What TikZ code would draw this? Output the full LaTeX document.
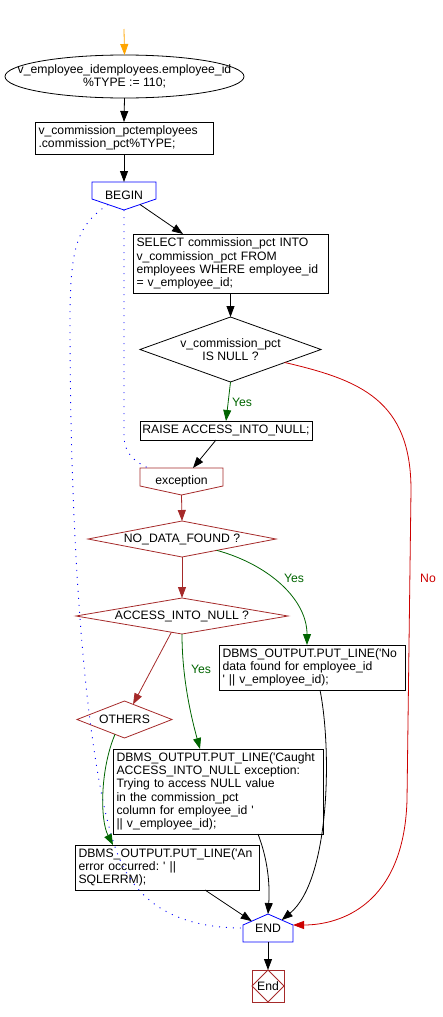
\documentclass[tikz,border=0pt]{standalone}
\usepackage{fontspec}
\setmainfont{Liberation Sans}
\usetikzlibrary{arrows.meta,shapes.geometric,calc}
\definecolor{fcbrown}{HTML}{A52A2A}
\definecolor{fcred}{HTML}{CC0000}
\definecolor{fcgreen}{HTML}{006400}
\definecolor{fcblue}{HTML}{0000FF}
\definecolor{fcorange}{HTML}{FFA500}
\newcommand\sq{\textquotesingle}
\frenchspacing
\begin{document}
\begin{tikzpicture}[x=1pt,y=-1pt,line width=0.8pt,
  every node/.style={font=\fontsize{12.2pt}{13.3pt}\selectfont, inner sep=0pt, outer sep=0pt},
  box/.style={draw, rectangle, anchor=north west, align=left, inner xsep=3.5pt},
  dia/.style={draw, diamond, inner sep=0pt, align=center},
  arr/.style={-{Triangle[length=11pt,width=8pt]}},
  yeslbl/.style={text=fcgreen},
  dots/.style={fcblue, dash pattern=on 1pt off 6pt, line width=0.9pt}]
\useasboundingbox (0,0) rectangle (442,1017);

% nodes
\coordinate (start) at (124,29);
\node[minimum width=239pt, minimum height=43pt, align=center] (decl1) at (124.5,76.5)
  {v\_employee\_idemployees.employee\_id\\\%TYPE := 110;};
\draw (decl1.center) ellipse [x radius=119.5pt, y radius=21.5pt];

\node[box, minimum width=178pt, minimum height=32pt, text width=171pt] (decl2) at (35,122)
  {v\_commission\_pctemployees\\.commission\_pct\%TYPE;};

\node[minimum width=64pt, minimum height=28pt] (begin) at (124,196) {\raisebox{1.5pt}{BEGIN}};
\draw[fcblue] (begin.north west) -- (begin.north east) -- ([yshift=11pt]begin.south east)
  -- (begin.south) -- ([yshift=11pt]begin.south west) -- cycle;

\node[box, minimum width=195pt, minimum height=59pt, text width=188pt] (select) at (133,234)
  {SELECT commission\_pct INTO\\v\_commission\_pct FROM\\employees WHERE employee\_id\\= v\_employee\_id;};

\node[dia, minimum width=181pt, minimum height=65pt, aspect=2.78] (d1) at (230.5,349.5)
  {v\_commission\_pct\\IS NULL ?};

\node[draw, rectangle, anchor=north west, minimum width=172pt, minimum height=19pt] (raise) at (140,421)
  {RAISE ACCESS\_INTO\_NULL;};

\node[minimum width=83pt, minimum height=27pt] (exc) at (181.5,481.5) {exception};
\draw[fcbrown] (exc.north west) -- (exc.north east) -- ([yshift=9pt]exc.south east)
  -- (exc.south) -- ([yshift=9pt]exc.south west) -- cycle;

\node[dia, draw=fcbrown, minimum width=188pt, minimum height=36pt, aspect=5.2] (ndf) at (182,539)
  {NO\_DATA\_FOUND ?};
\node[dia, draw=fcbrown, minimum width=212pt, minimum height=36pt, aspect=5.9] (ain) at (182,616)
  {ACCESS\_INTO\_NULL ?};
\node[dia, draw=fcbrown, minimum width=95pt, minimum height=37pt, aspect=2.57] (oth) at (124.5,719.5)
  {OTHERS};

\node[box, minimum width=186pt, minimum height=45pt, text width=179pt] (nd) at (219,645)
  {DBMS\_OUTPUT.PUT\_LINE(\sq No\\data found for employee\_id\\\sq{} || v\_employee\_id);};

\node[box, minimum width=210pt, minimum height=85pt, text width=203pt] (caught) at (113,749)
  {DBMS\_OUTPUT.PUT\_LINE(\sq Caught\\ACCESS\_INTO\_NULL exception:\\Trying to access NULL value\\in the commission\_pct\\column for employee\_id \sq\\|| v\_employee\_id);};

\node[box, minimum width=184pt, minimum height=45pt, text width=177pt] (err) at (75,845)
  {DBMS\_OUTPUT.PUT\_LINE(\sq An\\error occurred: \sq{} ||\\SQLERRM);};

\node[minimum width=50pt, minimum height=28pt] (endn) at (268,928) {\raisebox{-3pt}{END}};
\coordinate (endl) at ([yshift=-11pt]endn.north west);
\coordinate (endr) at ([yshift=-11pt]endn.north east);
\draw[fcblue] (endn.south west) -- (endl) -- (endn.north) -- (endr) -- (endn.south east) -- cycle;

\node[draw=fcbrown, minimum width=32pt, minimum height=32pt] (endbox) at (268,986) {};
\node[dia, draw=fcbrown, minimum width=32pt, minimum height=32pt, aspect=1] (endd) at (268,986) {End};

% labels
\node[yeslbl] (yes1) at (242,402) {Yes};
\node[yeslbl] (yes2) at (294,578) {Yes};
\node[yeslbl] (yes3) at (201,669) {Yes};
\node[text=fcred] (no1) at (428,578) {No};

% connectors
\draw[fcorange, arr] (start) -- (decl1.north);
\draw[arr] (decl1.south) -- (decl2.north);
\draw[arr] (decl2.south) -- (begin.north);
\draw[arr] ([xshift=16pt,yshift=5.5pt]begin.south) -- ([xshift=50pt]select.north west);
\draw[arr] (select.south) -- (d1.north);
\draw[fcgreen, arr] (d1.south) -- (raise.north);
\draw[arr] ([xshift=-10pt]raise.south) -- ([xshift=11.5pt]exc.north);
\draw[fcred, arr] ($(d1.south)!0.6!(d1.east)$) .. controls (360,380) and (411,400) .. (411,490)
  -- (407,800) .. controls (404,905) and (340,925) .. (endr);
\draw[dots] (begin.south) -- (124,435) .. controls (124,455) and (136,462) .. ([xshift=-33.5pt]exc.north);
\draw[dots] ([xshift=-16pt,yshift=5.5pt]begin.south) .. controls (78,225) and (70,245) .. (70,320)
  .. controls (70,600) and (92,790) .. (118,855) .. controls (140,912) and (190,928) .. (endn.west);
\draw[fcbrown, arr] (exc.south) -- (ndf.north);
\draw[fcbrown, arr] (ndf.south) -- (ain.north);
\draw[fcgreen, arr] ($(ndf.south)!0.37!(ndf.east)$) .. controls (270,565) and (307,600) .. ([xshift=-5pt]nd.north);
\draw[fcbrown, arr] ($(ain.south)!0.1!(ain.west)$) -- ($(oth.north)!0.18!(oth.east)$);
\draw[fcgreen, arr] (ain.south) .. controls (182,680) and (192,720) .. ([xshift=-18pt]caught.north);
\draw[fcgreen, arr] ($(oth.south)!0.2!(oth.west)$) .. controls (100,770) and (100,820) .. ([xshift=38pt]err.north west);
\draw[arr] ([xshift=130pt]err.south west) -- ($(endl)!0.35!(endn.north)$);
\draw[arr] ([xshift=40pt]caught.south) .. controls (268,860) and (270,885) .. (endn.north);
\draw[arr] ([xshift=8pt]nd.south) .. controls (332,750) and (330,880) .. ($(endn.north)!0.55!(endr)$);
\draw[arr] (endn.south) -- (endbox.north);
\end{tikzpicture}
\end{document}
